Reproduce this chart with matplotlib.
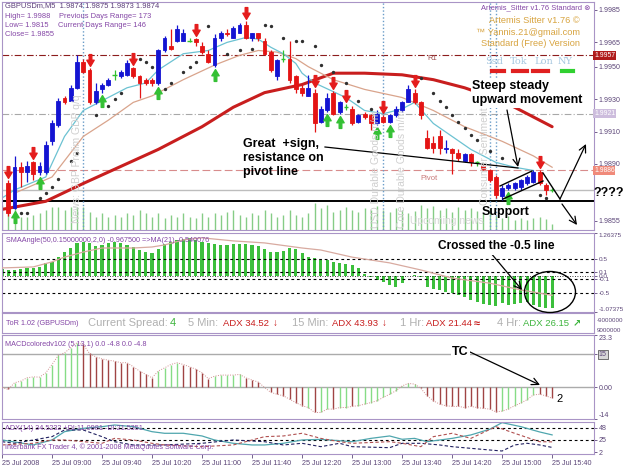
import matplotlib
matplotlib.use("Agg")
import matplotlib.pyplot as plt
import matplotlib.transforms as mtransforms
from matplotlib.path import Path
from matplotlib.patches import Ellipse, FancyArrowPatch
from matplotlib.lines import Line2D

plt.rcParams['font.family'] = ['Liberation Sans', 'DejaVu Sans']

# ---------------- data ----------------
bars = list(range(1, 89))
opens = [1.9878,1.9863,1.9888,1.9885,1.9891,1.9885,1.9885,1.9904,1.9914,1.9931,
         1.9929,1.9937,1.9953,1.9948,1.9928,1.9936,1.9939,1.9945,1.9944,1.9945,
         1.9949,1.9944,1.9942,1.9942,1.9940,1.9960,1.9963,1.9966,1.9966,1.9966,
         1.9967,1.9963,1.9958,1.9951,1.9968,1.9971,1.9968,1.9971,1.9976,1.9968,
         1.9971,1.9966,1.9959,1.9944,1.9955,1.9955,1.9944,1.9937,1.9932,1.9934,
         1.9916,1.9923,1.9934,1.9922,1.9925,1.9924,1.9916,1.9921,1.9920,1.9915,
         1.9919,1.9916,1.9920,1.9923,1.9928,1.9934,1.9928,1.9906,1.9903,1.9907,
         1.9899,1.9899,1.9897,1.9892,1.9896,1.9891,1.9889,1.9886,1.9882,1.9870,
         1.9875,1.9875,1.9876,1.9878,1.9879,1.9885,1.9877,1.9874]
highs = [1.9880,1.9895,1.9891,1.9892,1.9892,1.9891,1.9904,1.9917,1.9931,1.9932,
         1.9939,1.9957,1.9955,1.9949,1.9940,1.9940,1.9943,1.9948,1.9948,1.9954,
         1.9950,1.9945,1.9943,1.9943,1.9961,1.9969,1.9973,1.9976,1.9973,1.9968,
         1.9968,1.9965,1.9960,1.9970,1.9972,1.9973,1.9975,1.9977,1.9978,1.9971,
         1.9971,1.9968,1.9960,1.9955,1.9960,1.9966,1.9945,1.9939,1.9945,1.9936,
         1.9926,1.9934,1.9935,1.9929,1.9927,1.9926,1.9921,1.9922,1.9921,1.9923,
         1.9920,1.9921,1.9926,1.9929,1.9939,1.9936,1.9929,1.9911,1.9907,1.9911,
         1.9905,1.9900,1.9899,1.9897,1.9897,1.9892,1.9890,1.9887,1.9883,1.9877,
         1.9878,1.9879,1.9881,1.9883,1.9886,1.9886,1.9878,1.9875]
lows = [1.9858,1.9862,1.9876,1.9879,1.9880,1.9883,1.9884,1.9902,1.9913,1.9927,
        1.9929,1.9936,1.9946,1.9927,1.9927,1.9934,1.9938,1.9942,1.9943,1.9944,
        1.9943,1.9931,1.9939,1.9938,1.9939,1.9959,1.9960,1.9965,1.9966,1.9965,
        1.9963,1.9958,1.9952,1.9950,1.9966,1.9969,1.9968,1.9971,1.9967,1.9966,
        1.9966,1.9957,1.9947,1.9942,1.9953,1.9940,1.9934,1.9932,1.9932,1.9910,
        1.9915,1.9922,1.9920,1.9921,1.9923,1.9914,1.9915,1.9918,1.9911,1.9914,
        1.9915,1.9915,1.9919,1.9922,1.9928,1.9927,1.9918,1.9899,1.9897,1.9896,
        1.9897,1.9884,1.9892,1.9891,1.9889,1.9889,1.9886,1.9879,1.9869,1.9868,
        1.9874,1.9874,1.9874,1.9877,1.9878,1.9877,1.9871,1.9873]
closes = [1.9860,1.9888,1.9885,1.9889,1.9884,1.9889,1.9902,1.9915,1.9929,1.9928,
          1.9937,1.9953,1.9947,1.9928,1.9935,1.9939,1.9942,1.9945,1.9947,1.9952,
          1.9944,1.9940,1.9940,1.9940,1.9960,1.9968,1.9961,1.9973,1.9971,1.9966,
          1.9965,1.9959,1.9953,1.9968,1.9971,1.9970,1.9974,1.9976,1.9968,1.9971,
          1.9968,1.9958,1.9948,1.9954,1.9955,1.9942,1.9936,1.9934,1.9937,1.9915,
          1.9924,1.9931,1.9921,1.9928,1.9925,1.9915,1.9920,1.9919,1.9915,1.9921,
          1.9916,1.9920,1.9924,1.9928,1.9936,1.9928,1.9920,1.9900,1.9900,1.9900,
          1.9900,1.9897,1.9894,1.9896,1.9891,1.9891,1.9887,1.9880,1.9871,1.9875,
          1.9877,1.9878,1.9880,1.9882,1.9885,1.9878,1.9874,1.9874]

sell_arrow_bars = [1, 5, 14, 21, 31, 39, 50, 53, 55, 61, 66, 86]
buy_arrow_bars = [2, 6, 16, 25, 34, 52, 54, 60, 62, 81]

ma_slow_bars = [0, 7, 13, 21, 25, 32, 37, 42, 48, 53, 58, 64, 69, 74, 80, 83, 88]
ma_slow = [1.9862, 1.9867, 1.9878, 1.9892, 1.9899, 1.9913, 1.9925, 1.9934, 1.9939,
           1.9946, 1.9946, 1.9945, 1.9942, 1.9937, 1.9929, 1.9923, 1.9913]
ma_fast_bars = [0, 2, 7, 10, 13, 16, 20, 23, 25, 29, 33, 36, 39, 41, 43, 45, 47, 48, 50,
                55, 58, 61, 64, 66, 69, 72, 75, 79, 82, 85]
ma_fast = [1.9869, 1.9874, 1.9882, 1.9907, 1.9923, 1.9929, 1.9937, 1.9940, 1.9948, 1.9958,
           1.9960, 1.9965, 1.9968, 1.9967, 1.9962, 1.9958, 1.9952, 1.9946, 1.9940, 1.9931,
           1.9923, 1.9921, 1.9924, 1.9928, 1.9915, 1.9907, 1.9899, 1.9891, 1.9888, 1.9886]
ma_mid_bars = [2, 8, 13, 17, 21, 24, 29, 34, 38, 41, 44, 47, 49, 53, 58, 64, 69, 74, 80, 85, 88]
ma_mid = [1.9872, 1.9882, 1.9907, 1.9917, 1.9928, 1.9932, 1.9942, 1.9951, 1.9957, 1.9960,
          1.9959, 1.9955, 1.9950, 1.9942, 1.9936, 1.9931, 1.9923, 1.9913, 1.9904, 1.9895, 1.9888]

psar_bars = [3,4,6,7,8,9,11,12,15,17,18,19,22,23,24,25,26,27,29,30,31,33,36,38,40,42,43,45,
             47,48,50,51,53,55,57,59,67,69,70,71,72,73,74,75,76,78,80,86,87]
psar_vals = [1.9860,1.9860,1.9869,1.9872,1.9876,1.9881,1.9892,1.9897,1.9920,1.9926,
             1.9930,1.9934,1.9955,1.9953,1.9950,1.9933,1.9936,1.9940,1.9947,1.9950,
             1.9953,1.9975,1.9958,1.9960,1.9961,1.9976,1.9975,1.9968,1.9966,1.9966,
             1.9963,1.9951,1.9947,1.9940,1.9929,1.9924,1.9943,1.9934,1.9929,1.9925,
             1.9920,1.9916,1.9912,1.9908,1.9905,1.9898,1.9894,1.9871,1.9869]

vol_bars = list(range(0, 89))
volumes = [25,27,22,13,13,15,17,20,23,23,
           20,23,23,23,18,13,17,13,15,13,
           17,15,20,17,13,17,12,15,13,17,
           13,12,17,13,17,15,18,20,15,13,
           17,15,20,17,13,15,20,15,13,17,
           27,22,25,18,20,23,20,18,22,20,
           24,20,18,22,20,17,19,25,22,24,
           20,22,18,23,20,22,19,17,22,14,
           12,14,10,12,10,12,13,11,6]

r1_level, m3_level, pivot_level, bid_level, support_level = 1.9957, 1.9921, 1.9886, 1.9874, 1.9867
news_bars = [13, 61, 78, 79]
price_ticks = [1.9985, 1.9965, 1.9950, 1.9930, 1.9910, 1.9890, 1.9855]

ind_bars = list(range(0, 89))
sma_angle = [0.20,0.17,0.17,0.20,0.22,0.24,0.27,0.37,0.42,0.56,
             0.71,0.81,0.96,1.01,0.96,0.89,0.91,0.96,0.99,0.96,
             0.91,0.86,0.76,0.69,0.66,0.79,0.93,1.01,1.06,1.09,
             1.11,1.06,1.01,0.96,0.93,0.91,0.91,0.93,0.93,0.93,
             0.91,0.89,0.79,0.71,0.71,0.73,0.81,0.79,0.66,0.56,
             0.51,0.46,0.46,0.42,0.37,0.34,0.32,0.24,0.05,-0.05,
             -0.13,-0.20,-0.28,-0.33,-0.23,-0.02,0.02,-0.05,-0.33,-0.38,
             -0.43,-0.47,-0.52,-0.57,-0.62,-0.72,-0.77,-0.85,-0.87,-0.90,
             -0.82,-0.87,-0.85,-0.82,-0.79,-0.87,-0.92,-0.95,-0.97]
sma_ma_bars = [0,5,8,10,13,16,21,24,26,29,32,37,42,48,51,56,62,67,72,78,83,88]
sma_ma = [0.23,0.26,0.41,0.55,0.70,0.82,0.82,0.85,0.91,1.06,1.12,1.03,0.97,0.82,0.76,
          0.55,0.38,0.17,-0.07,-0.22,-0.42,-0.58]
sma_levels = [0.5, 0.1, -0.1, -0.5]
sma_ticks = [1.26375, 0.5, 0.1, 0.0, -0.1, -0.5, -1.07375]
sma_ticklabels = ['1.26375', '0.5', '0.1', '0.0', '-0.1', '-0.5', '-1.07375']

macd = [0.0,-0.9,2.1,2.8,4.3,4.7,4.6,6.5,10.2,14.2,
        15.4,17.6,19.9,19.1,15.1,13.6,12.7,12.1,11.7,11.0,
        11.0,9.2,7.3,5.8,4.3,7.3,8.7,10.2,11.0,10.2,
        9.2,8.1,6.5,3.9,5.0,5.5,5.5,5.5,5.8,4.3,
        3.3,2.4,0.0,-2.2,-3.0,-3.7,-5.2,-6.7,-8.1,-8.9,
        -11.1,-11.1,-9.6,-9.6,-8.9,-8.9,-8.4,-8.1,-7.4,-6.7,
        -5.9,-4.4,-3.0,-1.5,0.7,1.8,1.5,-0.4,-3.7,-5.9,
        -7.4,-8.1,-8.4,-8.4,-8.9,-8.4,-8.9,-9.3,-9.6,-10.8,
        -10.5,-9.6,-8.1,-6.9,-5.4,-3.3,-3.0,-3.7,-4.8]
macd_colors = ("grggggggggggg" + "rrrrrrrrrrrr" + "gggg" + "rrrrr" + "ggggg" + "rrrrrrrrrr"
               + "g" + "r" + "gg" + "r" + "gg" + "r" + "gggggggggg" + "rrrrrrrrrrrrr"
               + "gggggg" + "rrr")

adx_bars = [0,5,8,10,13,16,18,21,24,26,29,32,34,37,40,42,45,48,51,56,59,62,64,66,68,72,75,78,80,83,86,88]
adx_main = [25.0,15.7,25.0,40.5,46.8,49.9,53.0,49.9,40.5,37.5,37.5,32.5,25.0,18.8,15.7,15.7,
            18.8,25.0,26.2,21.8,28.0,32.5,26.3,28.0,21.8,28.0,34.4,45.0,57.4,49.9,40.0,34.5]
pdi_bars = [0,2,5,8,10,13,16,18,21,26,32,37,42,45,48,51,54,56,62,64,67,70,72,78,80,82,84,86,88]
pdi = [21.8,18.8,25.0,31.2,43.7,43.7,31.2,21.8,15.7,15.7,18.8,25.0,21.8,15.7,18.8,12.5,
       18.8,12.5,10.6,18.8,18.8,15.7,12.5,6.3,4.4,15.7,18.8,15.7,11.1]
mdi_bars = [0,5,8,10,16,18,21,24,26,32,37,42,45,48,51,54,56,62,64,67,69,72,75,79,82,86,88]
mdi = [15.7,18.8,25.0,25.0,18.8,28.0,25.0,18.8,15.7,12.5,15.7,31.2,32.5,37.5,28.0,21.8,
       18.8,21.8,18.8,12.5,31.2,37.5,28.0,49.9,37.5,21.8,21.5]

time_ticks = [0, 8, 16, 24, 32, 40, 48, 56, 64, 72, 80, 88]
time_labels = ['25 Jul 2008', '25 Jul 09:00', '25 Jul 09:40', '25 Jul 10:20', '25 Jul 11:00',
               '25 Jul 11:40', '25 Jul 12:20', '25 Jul 13:00', '25 Jul 13:40', '25 Jul 14:20',
               '25 Jul 15:00', '25 Jul 15:40']

# ---------------- figure ----------------
W, H = 625, 469
fig = plt.figure(figsize=(W / 100, H / 100), dpi=100)
fig.patch.set_facecolor('white')
PX = mtransforms.Affine2D().scale(1.0 / W, -1.0 / H).translate(0, 1) + fig.transFigure

FRAME = '#A994C6'
LABEL = '#5C4678'
PURPLE = '#8446A6'
BLUE = '#1414D2'
RED = '#E41414'
DOJI = '#30C030'


def panel(top, bottom, frame=True):
    a = fig.add_axes([2 / W, 1 - bottom / H, 592 / W, (bottom - top) / H])
    a.set_xlim(0, 94.7)
    for s in a.spines.values():
        s.set_color(FRAME)
        s.set_linewidth(0.8)
        s.set_visible(frame)
    a.yaxis.tick_right()
    a.tick_params(axis='y', direction='out', length=2, width=0.6, color=LABEL,
                  labelsize=5.1, labelcolor=LABEL, pad=1.5)
    a.tick_params(axis='x', bottom=False, labelbottom=False)
    return a


def ftext(x, y, s, **kw):
    fig.text(x, y, s, transform=PX, **kw)


# volume (behind)
axv = panel(2, 230, frame=False)
axv.set_ylim(0, 228)
axv.set_yticks([])
axv.vlines(vol_bars, 0, volumes, color='#86CC86', lw=1.0)

ax = panel(2, 230)
ax.patch.set_alpha(0)
ax.set_ylim(1.98493, 1.99899)
ax.set_yticks(price_ticks)
ax.set_yticklabels([f'{p:.4f}' for p in price_ticks])

# horizontal levels
ax.axhline(r1_level, color='#8C1C1C', lw=0.8, ls=(0, (6, 2, 1, 2)))
ax.axhline(m3_level, color='#A8A8A8', lw=0.8, ls=(0, (6, 2, 1, 2)))
ax.axhline(pivot_level, color='#D88C8C', lw=0.8, ls=(0, (7, 3)))
ax.axhline(bid_level, color='#BDBDBD', lw=1.0)
ax.axhline(support_level, color='black', lw=1.4)
for nb in news_bars:
    ax.axvline(nb, color='#6A9CC8', lw=1.0, ls=(0, (1, 1.5)))

# level labels
ax.text(68, 1.9954, 'R1', fontsize=5.5, color='#A05050')
ax.text(67, 1.9880, 'Pivot', fontsize=5.5, color='#C87878')

# news texts (vertical)
news_texts = [(77, 223, 'News: GBP Prelim GDP q/q'), (376, 228, 'USD Durable Goods m/m'),
              (402, 228, 'Core Durable Goods m/m'), (485, 205, 'Consumer Sentiment')]
for nx, ny, s in news_texts:
    ftext(nx, ny, s, rotation=90, ha='center', va='bottom', fontsize=7.5, color='#CFCFCF')
ftext(410, 221, 'Upcoming news', fontsize=7.5, color='#D6D6D6', va='center')

# moving averages
ax.plot(ma_slow_bars, ma_slow, color='#C81E1E', lw=2.2, solid_capstyle='round')
ax.plot(ma_mid_bars, ma_mid, color='#D9A48C', lw=0.9)
ax.plot(ma_fast_bars, ma_fast, color='#6CC2D2', lw=0.9)

# candles
for b, o, h, l, c in zip(bars, opens, highs, lows, closes):
    col = BLUE if c > o else (RED if c < o else DOJI)
    ax.vlines(b, l, h, color=col, lw=0.9, zorder=3)
    if c != o:
        ax.bar(b, abs(c - o), bottom=min(o, c), width=0.62, color=col, edgecolor=col,
               lw=0.6, zorder=4)
    else:
        ax.hlines(o, b - 0.35, b + 0.35, color=col, lw=1.0, zorder=4)

# psar dots
ax.plot(psar_bars, psar_vals, ls='none', marker='o', ms=1.4, color='#303030', zorder=5)

# signal arrows
dverts = [(-0.22, 1.0), (0.22, 1.0), (0.22, 0.05), (0.62, 0.05), (0.0, -1.0),
          (-0.62, 0.05), (-0.22, 0.05), (-0.22, 1.0)]
codes = [Path.MOVETO] + [Path.LINETO] * 6 + [Path.CLOSEPOLY]
down_marker = Path(dverts, codes)
up_marker = Path([(x, -y) for x, y in dverts], codes)
hi = dict(zip(bars, highs))
lo = dict(zip(bars, lows))
tr_up = mtransforms.offset_copy(ax.transData, fig=fig, x=0, y=8, units='dots')
tr_dn = mtransforms.offset_copy(ax.transData, fig=fig, x=0, y=-8, units='dots')
ax.plot(sell_arrow_bars, [hi[b] for b in sell_arrow_bars], ls='none', marker=down_marker,
        ms=8.5, color='#E41C1C', mec='#E41C1C', transform=tr_up, zorder=6)
ax.plot(buy_arrow_bars, [lo[b] for b in buy_arrow_bars], ls='none', marker=up_marker,
        ms=8.5, color='#34C034', mec='#34C034', transform=tr_dn, zorder=6)

# boxed price labels
tr_lab = mtransforms.offset_copy(ax.get_yaxis_transform(), fig=fig, x=0, y=0, units='dots')
for lev, fc in [(r1_level, '#B01C1C'), (m3_level, '#CDBDDD'), (pivot_level, '#F08A7A')]:
    ax.text(1.0, lev, f'{lev:.4f}', transform=tr_lab, ha='left', va='center', fontsize=4.9,
            color='white', bbox=dict(boxstyle='square,pad=0.12', fc=fc, ec='none'))

# ---------------- SMA angle ----------------
axs = panel(233, 312)
axs.set_ylim(-1.07375, 1.26375)
axs.bar(ind_bars, sma_angle, width=0.5, color='#3CBF3C', zorder=2)
for lv in sma_levels:
    axs.axhline(lv, color='black', lw=0.8, ls=(0, (2.5, 2.5)))
axs.axhline(0.0, color='black', lw=0.6, ls=(0, (1, 2)))
axs.plot(sma_ma_bars, sma_ma, color='#D8AAA0', lw=0.9, zorder=3)
axs.set_yticks(sma_ticks)
axs.set_yticklabels(sma_ticklabels)
axs.tick_params(axis='y', labelsize=4.6)
tl = axs.get_yticklabels()
tl[0].set_va('top')
tl[-1].set_va('bottom')

# ---------------- ToR strip ----------------
axt = panel(313, 333)
axt.set_ylim(0, 1)
axt.set_yticks([])
ftext(597, 320, '-9000000', fontsize=4.5, color=LABEL, va='center')
ftext(597, 330, '9000000', fontsize=4.5, color=LABEL, va='center')
GREY = '#B0B0B0'
TR = '#C81E1E'
TG = '#3CB43C'
tor_items = [(6, 'ToR 1.02 (GBPUSDm)', PURPLE, 5.2, 'normal'),
             (88, 'Current Spread:', GREY, 8, 'normal'),
             (170, '4', TG, 8, 'normal'),
             (188, '5 Min:', GREY, 8, 'normal'),
             (223, 'ADX 34.52', TR, 6.8, 'normal'),
             (273, '↓', TR, 7, 'bold'),
             (292, '15 Min:', GREY, 8, 'normal'),
             (332, 'ADX 43.93', TR, 6.8, 'normal'),
             (382, '↓', TR, 7, 'bold'),
             (400, '1 Hr:', GREY, 8, 'normal'),
             (426, 'ADX 21.44', TR, 6.8, 'normal'),
             (474, '≈', TR, 8, 'bold'),
             (497, '4 Hr:', GREY, 8, 'normal'),
             (523, 'ADX 26.15', TG, 6.8, 'normal'),
             (573, '↗', TG, 7, 'bold')]
for x, s, c, fs, fw in tor_items:
    ftext(x, 323.5, s, color=c, fontsize=fs, fontweight=fw, va='center')

# ---------------- MACD ----------------
axm = panel(335, 419)
axm.set_ylim(-14.0, 23.3)
axm.axhline(15, color='#ABABAB', lw=1.0, zorder=1)
axm.axhline(0, color='#ABABAB', lw=1.0, zorder=1)
cmap = {'g': '#86DC86', 'r': '#A04444'}
axm.vlines(ind_bars, 0, macd, colors=[cmap[c] for c in macd_colors], lw=1.0, zorder=2)
axm.plot(ind_bars, macd, color='#D09090', lw=0.7, ls=(0, (1, 1.5)), zorder=3)
axm.set_yticks([23.3, 15, 0, -14])
axm.set_yticklabels(['23.3', '15', '0.00', '-14'])
ml = axm.get_yticklabels()
ml[0].set_va('top')
ml[-1].set_va('bottom')
ml[1].set_bbox(dict(boxstyle='square,pad=0.12', fc='#D8D8D8', ec='#404040', lw=0.5))

# ---------------- ADX ----------------
axa = panel(422, 454)
axa.set_ylim(-1.2, 58.6)
axa.axhline(48, color='black', lw=0.8, ls=(0, (2.5, 2.5)))
axa.axhline(25, color='black', lw=0.8, ls=(0, (2.5, 2.5)))
axa.plot(adx_bars, adx_main, color='#4FA6AE', lw=0.9)
axa.plot(pdi_bars, pdi, color='#202060', lw=0.8, ls=(0, (3, 2)))
axa.plot(mdi_bars, mdi, color='#B05050', lw=0.8, ls=(0, (3, 2)))
axa.set_yticks([48, 25, 2])
axa.set_yticklabels(['48', '25', '2'])
axa.tick_params(axis='x', bottom=True, labelbottom=True, direction='out', length=3,
                width=0.6, color=LABEL, labelsize=5.2, labelcolor=LABEL, pad=1.5)
axa.set_xticks(time_ticks)
axa.set_xticklabels(time_labels)
for t in axa.get_xticklabels():
    t.set_ha('left')

# ---------------- panel captions ----------------
ftext(5, 6, 'GBPUSDm,M5  1.9874 1.9875 1.9873 1.9874', fontsize=5.4, color='#5A3C78', va='center')
ftext(5, 16, 'High= 1.9988', fontsize=5.4, color=PURPLE, va='center')
ftext(59, 16, 'Previous Days Range= 173', fontsize=5.4, color=PURPLE, va='center')
ftext(5, 25.5, 'Low= 1.9815', fontsize=5.4, color=PURPLE, va='center')
ftext(58, 25.5, 'Current Days Range= 146', fontsize=5.4, color=PURPLE, va='center')
ftext(5, 34.5, 'Close= 1.9855', fontsize=5.4, color=PURPLE, va='center')
ftext(590, 8, 'Artemis_Sitter v1.76 Standard ⊗', fontsize=5.4, color=PURPLE, ha='right', va='center')
ftext(580, 20.5, 'Artemis Sitter v1.76 ©', fontsize=6.7, color='#D8A440', ha='right', va='center')
ftext(580, 32.5, '™ Yannis.21@gmail.com', fontsize=6.7, color='#D8A440', ha='right', va='center')
ftext(580, 44, 'Standard (Free) Version', fontsize=6.7, color='#D8A440', ha='right', va='center')
for x, s in [(485, 'Ssd'), (510, 'Tok'), (534, 'Lon'), (558, 'NY')]:
    ftext(x, 62, s, fontsize=7, color='#A8C8E0', family='DejaVu Serif', va='center')
for (x1, x2), c in [((492, 504), '#E02020'), ((513, 527), '#E02020'), ((533, 548), '#E02020'),
                     ((562, 573), '#30D030')]:
    fig.add_artist(Line2D([x1, x2], [71.5, 71.5], transform=PX, color=c, lw=3))
ftext(6, 240.5, 'SMAAngle(50,0.15000000,2,0) -0.967500 =>MA(21) -0.540076', fontsize=5.2,
      color=PURPLE, va='center')
ftext(5, 344, 'MACDcoloredv102 (5,13,1) 0.0 -4.8 0.0 -4.8', fontsize=5.2, color=PURPLE, va='center')
ftext(5, 429, 'ADX(14) 34.5232 +DI:11.0981 -DI:21.5351', fontsize=5.2, color=PURPLE, va='center')
ftext(5, 447.5, 'Interbank FX Trader 4, © 2001-2008 MetaQuotes Software Corp.', fontsize=5.2,
      color=PURPLE, va='center')

# ---------------- hand-drawn annotations ----------------
BOLD = dict(fontsize=9, fontweight='bold', color='black')
ftext(243, 138, 'Great  +sign,\nresistance on\npivot line', va='top', linespacing=1.25, **BOLD)
ftext(472, 80, 'Steep steady\nupward movement', va='top', linespacing=1.25,
      bbox=dict(fc='white', ec='none', pad=1), **BOLD)
ftext(482, 212, 'Support', va='center', **BOLD)
ftext(593, 193, '????', va='center', **BOLD)
ftext(438, 246, 'Crossed the -0.5 line', va='center', fontsize=8.6, fontweight='bold',
      color='black', bbox=dict(fc='white', ec='none', pad=2))
ftext(452, 352, 'TC', va='center', bbox=dict(fc='white', ec='none', pad=1), **BOLD)
ftext(556, 399, '2', va='center', fontsize=8, color='black')


def seg(p, q, lw=1.0):
    fig.add_artist(Line2D([p[0], q[0]], [p[1], q[1]], transform=PX, color='black', lw=lw))


def arrow(p, q, lw=0.9):
    fig.add_artist(FancyArrowPatch(p, q, transform=PX, arrowstyle='->,head_length=5,head_width=2.5',
                                   color='black', lw=lw, mutation_scale=1, shrinkA=0, shrinkB=0))


seg((325, 147), (518, 168), 0.9)
arrow((507, 110), (518, 167))
seg((500, 186), (532, 171))
seg((503, 199), (543, 181))
seg((543, 173), (560, 199))
arrow((560, 199), (586, 144))
arrow((562, 204), (577, 225))
arrow((490, 252), (522, 290))
arrow((470, 352), (540, 385))
fig.add_artist(Ellipse((550 / W, 1 - 292 / H), 51 / W, 41 / H, transform=fig.transFigure,
                       fill=False, ec='black', lw=1.0))

fig.savefig('out.png', dpi=100, facecolor='white')
